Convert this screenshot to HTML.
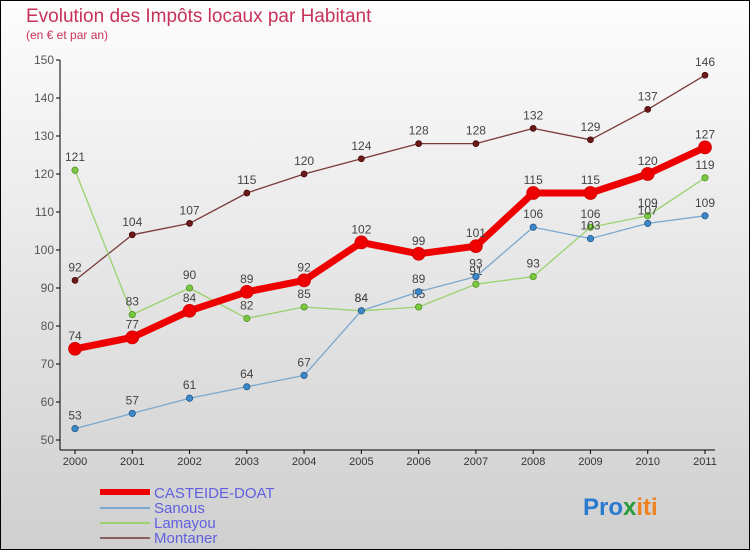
<!DOCTYPE html>
<html><head><meta charset="utf-8"><style>
body{margin:0;}
svg text{font-family:"Liberation Sans",sans-serif;}
</style></head><body>
<svg id="c" width="750" height="550" xmlns="http://www.w3.org/2000/svg">
<defs><linearGradient id="bg" x1="0" y1="0" x2="0" y2="1"><stop offset="0" stop-color="#fdfdfd"/><stop offset="1" stop-color="#cfcfcf"/></linearGradient></defs>
<rect x="0.5" y="0.5" width="749" height="549" fill="url(#bg)" stroke="#000"/>
<text x="26" y="22" font-size="19" fill="#c8325a">Evolution des Impôts locaux par Habitant</text>
<text x="26" y="39" font-size="12" fill="#c8325a">(en € et par an)</text>
<g id="axes"></g>
<g id="series"></g>
<g>
<line x1="100" y1="492" x2="150" y2="492" stroke="#e00" stroke-width="6"/>
<text x="154" y="498" font-size="15" fill="#6060e0">CASTEIDE-DOAT</text>
<line x1="100" y1="508" x2="150" y2="508" stroke="#79a8d0" stroke-width="2"/>
<text x="154" y="513" font-size="15" fill="#6060e0">Sanous</text>
<line x1="100" y1="523" x2="150" y2="523" stroke="#9bd26e" stroke-width="2"/>
<text x="154" y="528" font-size="15" fill="#6060e0">Lamayou</text>
<line x1="100" y1="538" x2="150" y2="538" stroke="#8a6060" stroke-width="2"/>
<text x="154" y="543" font-size="15" fill="#6060e0">Montaner</text>
</g>
<text x="583" y="515" font-size="24" font-weight="bold"><tspan fill="#2a7ad0">Pro</tspan><tspan fill="#2a9a3a">x</tspan><tspan fill="#f08020">iti</tspan></text>
</svg>
<script>
const years=["2000","2001","2002","2003","2004","2005","2006","2007","2008","2009","2010","2011"];
const yTicks=[50,60,70,80,90,100,110,120,130,140,150];
const casteide=[74,77,84,89,92,102,99,101,115,115,120,127];
const sanous=[53,57,61,64,67,84,89,93,106,103,107,109];
const lamayou=[121,83,90,82,85,84,85,91,93,106,109,119];
const montaner=[92,104,107,115,120,124,128,128,132,129,137,146];
const NS="http://www.w3.org/2000/svg";
const X=i=>75+i*(630/(years.length-1));
const Y=v=>440-(v-50)*3.8;
function mk(t,a,p){const e=document.createElementNS(NS,t);for(const k in a)e.setAttribute(k,a[k]);p.appendChild(e);return e;}
const ax=document.getElementById('axes');
const yl=mk('line',{x1:60,y1:60,x2:60,y2:450,stroke:'#000'},ax);


const xl=mk('line',{x1:60,y1:450,x2:715,y2:450,stroke:'#000'},ax);


yTicks.forEach(v=>{
 mk('line',{x1:56,y1:Y(v),x2:60,y2:Y(v),stroke:'#000'},ax);
 const t=mk('text',{x:54,y:Y(v)+4,'font-size':12,fill:'#555','text-anchor':'end'},ax);t.textContent=v;
 
 
});
years.forEach((y,i)=>{
 mk('line',{x1:X(i),y1:450,x2:X(i),y2:454,stroke:'#000'},ax);
 const t=mk('text',{x:X(i),y:465,'font-size':11,fill:'#333','text-anchor':'middle'},ax);t.textContent=y;
 
 
});
const sg=document.getElementById('series');
function draw(d,name,color,w,r,dot,lc){
 const g=mk('g',{},sg);
 
 
 const p=mk('polyline',{points:d.map((v,i)=>X(i)+','+Y(v)).join(' '),fill:'none',stroke:color,'stroke-width':w,'stroke-linejoin':'round'},g);
 
 
 d.forEach((v,i)=>{
  const c=mk('circle',{cx:X(i),cy:Y(v),r:r,fill:dot,stroke:lc,'stroke-width':0.7},g);
  
  
  const t=mk('text',{x:X(i),y:Y(v)-9,'font-size':12,fill:'#444','text-anchor':'middle'},g);t.textContent=v;
  
  
 });
}
draw(montaner,'montaner','#7a3a3a',1.3,3,'#6a1a1a','#400');
draw(lamayou,'lamayou','#9bd26e',1.3,3.2,'#7ac840','#4a8a20');
draw(sanous,'sanous','#79a8d0',1.3,3.2,'#3a88c8','#205080');
draw(casteide,'casteide','#ee0000',7,6.5,'#ee0000','#c00');
</script>
</body></html>
